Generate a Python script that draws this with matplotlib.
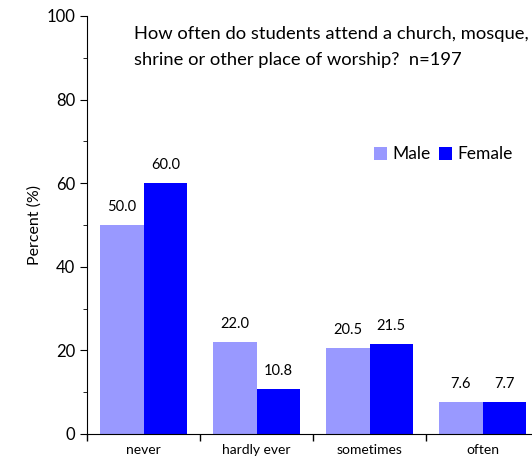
import matplotlib.pyplot as plt
import numpy as np
from matplotlib.ticker import MultipleLocator

plt.rcParams['font.family'] = ['Lato', 'DejaVu Sans']

categories = ['never', 'hardly ever', 'sometimes', 'often']
male = [50.0, 22.0, 20.5, 7.6]
female = [60.0, 10.8, 21.5, 7.7]

fig = plt.figure(figsize=(5.32, 4.66), dpi=100)
ax = fig.add_axes([0.1635, 0.0687, 0.85, 0.897])

x = np.arange(len(categories))
w = 0.385
b1 = ax.bar(x - w / 2, male, w, color='#9999ff', label='Male')
b2 = ax.bar(x + w / 2, female, w, color='#0000ff', label='Female')

for bars, vals in ((b1, male), (b2, female)):
    for r, v in zip(bars, vals):
        ax.text(r.get_x() + r.get_width() / 2, v + 2.6, f'{v:.1f}',
                ha='center', va='bottom', fontsize=10.5)

ax.set_xlim(-0.5, len(categories) - 0.5)
ax.set_ylim(0, 100)
ax.yaxis.set_major_locator(MultipleLocator(20))
ax.yaxis.set_minor_locator(MultipleLocator(10))
ax.set_xticks(np.arange(len(categories) + 1) - 0.5)
ax.set_xticklabels([])
ax.set_xticks(x, minor=True)
ax.set_xticklabels(categories, minor=True, fontsize=10)
ax.tick_params(axis='x', which='minor', length=0, pad=7)
ax.tick_params(axis='x', which='major', length=5, width=1)
ax.tick_params(axis='y', which='major', length=5, labelsize=12)
ax.tick_params(axis='y', which='minor', length=3)
for s in ('top', 'right'):
    ax.spines[s].set_visible(False)
ax.set_ylabel('Percent (%)', fontsize=11.5, labelpad=3)

# question text, two lines
ax.text(0.105, 0.975, 'How often do students attend a church, mosque,\nshrine or other place of worship?  n=197',
        transform=ax.transAxes, fontsize=13.2, va='top', ha='left', linespacing=1.75)

ax.legend(loc='upper left', bbox_to_anchor=(0.62, 0.705), frameon=False, fontsize=12.5,
          ncol=2, handlelength=0.75, handleheight=0.75, handletextpad=0.3, columnspacing=0.5,
          borderaxespad=0)

fig.savefig('out.png', dpi=100)
